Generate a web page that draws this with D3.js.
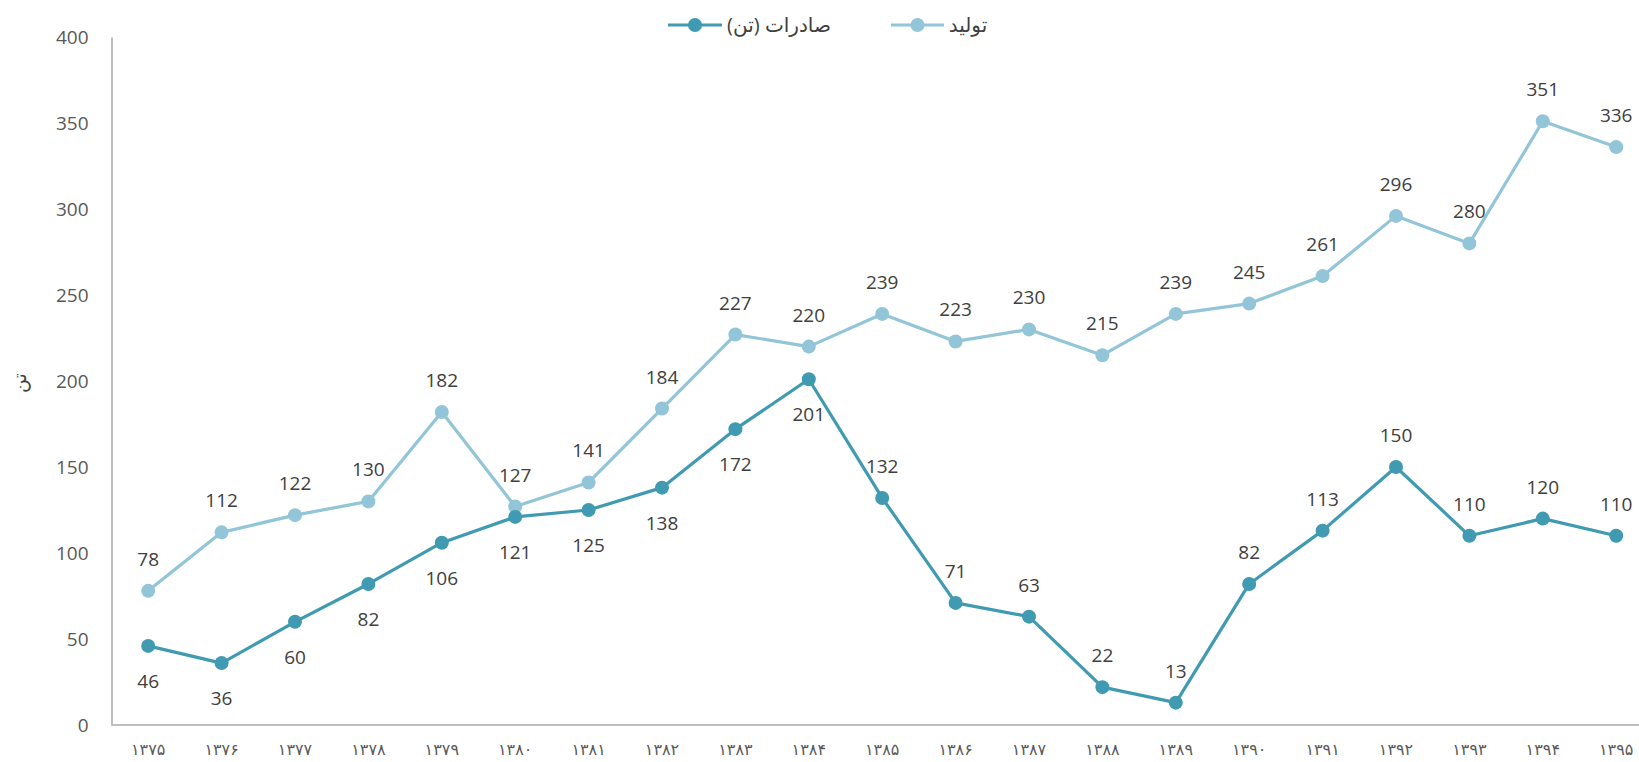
<!DOCTYPE html>
<html lang="fa">
<head>
    <meta charset="UTF-8">
    <title>تولید و صادرات</title>
    <script src="https://cdn.jsdelivr.net/npm/d3@7/dist/d3.min.js"></script>
    <style>
        body { margin: 0; background: #fff; }
        svg text { font-family: "Open Sans", "Noto Sans", "DejaVu Sans", sans-serif; fill: #404040; }
        svg g.axis path { stroke: #bfbfbf; stroke-width: 2; }
        svg g.axis line { display: none; }
        svg g.yaxis text { font-size: 19px; fill: #595959; }
        svg g.xaxis text { font-size: 16px; fill: #595959; font-family: "DejaVu Sans", sans-serif; }
    </style>
</head>
<body>
    <script>
        // size of the drawing
        var w = 1639;
        var h = 762;

        // data
        var years = ['۱۳۷۵', '۱۳۷۶', '۱۳۷۷', '۱۳۷۸', '۱۳۷۹', '۱۳۸۰', '۱۳۸۱', '۱۳۸۲', '۱۳۸۳', '۱۳۸۴', '۱۳۸۵',
                     '۱۳۸۶', '۱۳۸۷', '۱۳۸۸', '۱۳۸۹', '۱۳۹۰', '۱۳۹۱', '۱۳۹۲', '۱۳۹۳', '۱۳۹۴', '۱۳۹۵'];
        var production = [78, 112, 122, 130, 182, 127, 141, 184, 227, 220, 239, 223, 230, 215, 239, 245, 261, 296, 280, 351, 336];
        var exportsTon = [46, 36, 60, 82, 106, 121, 125, 138, 172, 201, 132, 71, 63, 22, 13, 82, 113, 150, 110, 120, 110];
        // label under the point (true) or above it (false) for exports
        var exportsBelow = [true, true, true, true, true, true, true, true, true, true, false,
                            false, false, false, false, false, false, false, false, false, false];
        var yTicks = [0, 50, 100, 150, 200, 250, 300, 350, 400];

        var prodName = 'تولید';
        var expName = 'صادرات (تن)';
        var yTitle = 'تن';

        var prodColor = '#92c5d7';
        var expColor = '#3f9ab2';

        // plot area
        var plotLeft = 111.5, plotTop = 37, plotBottom = 725;
        var step = 73.4;
        var plotRight = plotLeft + step * years.length;

        var xScale = d3.scaleBand()
                        .domain(years)
                        .range([plotLeft, plotRight]);

        var yScale = d3.scaleLinear()
                        .domain([0, 400])
                        .range([plotBottom, plotTop]);

        var svg = d3.select('body')
                    .append('svg')
                    .attr('width', w)
                    .attr('height', h);

        // y axis
        var yAxis = d3.axisLeft(yScale)
                        .tickValues(yTicks)
                        .tickSize(0)
                        .tickPadding(23);
        svg.append('g')
            .attr('class', 'axis yaxis')
            .attr('transform', 'translate(' + plotLeft + ',0)')
            .call(yAxis);

        // x axis
        var xAxis = d3.axisBottom(xScale)
                        .tickSize(0)
                        .tickPadding(19);
        svg.append('g')
            .attr('class', 'axis xaxis')
            .attr('transform', 'translate(0,' + plotBottom + ')')
            .call(xAxis)
            .select('.domain')
            .attr('d', 'M' + plotLeft + ',0H' + w);

        // y title
        svg.append('text')
            .attr('transform', 'translate(26,' + ((plotTop + plotBottom) / 2 + 2) + ') rotate(-90)')
            .attr('text-anchor', 'middle')
            .attr('font-size', 19)
            .attr('fill', '#595959')
            .text(yTitle);

        function cx(d, i) { return xScale(years[i]) + xScale.bandwidth() / 2; }

        var line = d3.line()
                    .x(function(d, i) { return cx(d, i); })
                    .y(function(d) { return yScale(d); });

        function drawSeries(values, color) {
            svg.append('path')
                .datum(values)
                .attr('fill', 'none')
                .attr('stroke', color)
                .attr('stroke-width', 3.2)
                .attr('stroke-linejoin', 'round')
                .attr('d', line);
            svg.append('g')
                .selectAll('circle')
                .data(values)
                .enter()
                .append('circle')
                .attr('cx', cx)
                .attr('cy', function(d) { return yScale(d); })
                .attr('r', 7)
                .attr('fill', color);
        }

        drawSeries(production, prodColor);
        drawSeries(exportsTon, expColor);

        // data labels
        svg.append('g')
            .selectAll('text')
            .data(production)
            .enter()
            .append('text')
            .attr('x', cx)
            .attr('y', function(d) { return yScale(d) - 25; })
            .attr('text-anchor', 'middle')
            .attr('font-size', 19)
            .text(function(d) { return d; });

        svg.append('g')
            .selectAll('text')
            .data(exportsTon)
            .enter()
            .append('text')
            .attr('x', cx)
            .attr('y', function(d, i) { return yScale(d) + (exportsBelow[i] ? 42 : -25); })
            .attr('text-anchor', 'middle')
            .attr('font-size', 19)
            .text(function(d) { return d; });

        // legend
        var legend = [
            { name: expName, color: expColor, x1: 668, x2: 722, tx: 779 },
            { name: prodName, color: prodColor, x1: 891, x2: 944, tx: 968 }
        ];
        var lg = svg.append('g').selectAll('g')
                    .data(legend)
                    .enter()
                    .append('g');
        lg.append('line')
            .attr('x1', function(d) { return d.x1; })
            .attr('x2', function(d) { return d.x2; })
            .attr('y1', 25)
            .attr('y2', 25)
            .attr('stroke', function(d) { return d.color; })
            .attr('stroke-width', 3.2);
        lg.append('circle')
            .attr('cx', function(d) { return (d.x1 + d.x2) / 2; })
            .attr('cy', 25)
            .attr('r', 7)
            .attr('fill', function(d) { return d.color; });
        lg.append('text')
            .attr('x', function(d) { return d.tx; })
            .attr('y', 32)
            .attr('direction', 'rtl')
            .attr('text-anchor', 'middle')
            .attr('font-size', 20)
            .attr('fill', '#595959')
            .text(function(d) { return d.name; });
    </script>
</body>
</html>
